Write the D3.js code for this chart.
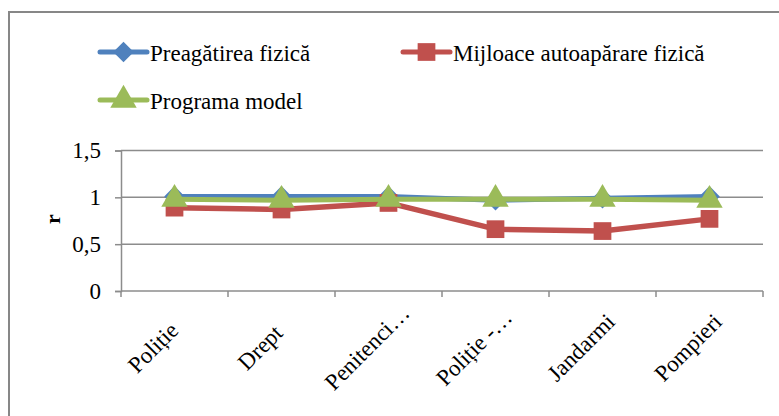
<!DOCTYPE html>
<html>
<head>
<meta charset="utf-8">
<script src="https://cdn.jsdelivr.net/npm/d3@7"></script>
<style>
  body { margin: 0; background: #fff; }
  svg text { font-family: "Liberation Serif", "Times New Roman", "DejaVu Serif", serif; }
</style>
</head>
<body>
<svg id="chart" width="779" height="416"></svg>
<script>
// chart data
const categories = ["Poliție", "Drept", "Penitenci…", "Poliție -…", "Jandarmi", "Pompieri"];
const seriesNames = ["Preagătirea fizică", "Mijloace autoapărare fizică", "Programa model"];
const preagatire = [1.01, 1.01, 1.01, 0.97, 0.99, 1.01];
const mijloace = [0.89, 0.87, 0.94, 0.66, 0.64, 0.77];
const programa = [0.98, 0.97, 0.98, 0.98, 0.98, 0.97];
const yTicks = [0, 0.5, 1, 1.5];
const yTickLabels = ["0", "0,5", "1", "1,5"];

const colors = ["#4F81BD", "#C0504D", "#9BBB59"];
const symbols = [d3.symbolDiamond2, d3.symbolSquare2, d3.symbolTriangle2];
const symbolSizes = [270, 400, 500];
const allSeries = [preagatire, mijloace, programa];
const serif = "'Liberation Serif', 'Times New Roman', 'DejaVu Serif', serif";

const svg = d3.select("#chart");

// outer frame (cropped on right and bottom)
svg.append("rect")
    .attr("x", 9).attr("y", 12)
    .attr("width", 800).attr("height", 450)
    .attr("fill", "none")
    .attr("stroke", "#878787")
    .attr("stroke-width", 2);

const plot = { left: 121, right: 763, top: 150.5, bottom: 291 };

const x = d3.scaleBand()
    .domain(categories)
    .range([plot.left, plot.right]);

const y = d3.scaleLinear()
    .domain([0, 1.5])
    .range([plot.bottom, plot.top]);

// horizontal gridlines
svg.append("g")
    .selectAll("line")
    .data(yTicks.filter(d => d > 0))
    .enter()
    .append("line")
    .attr("x1", plot.left).attr("x2", plot.right)
    .attr("y1", d => y(d)).attr("y2", d => y(d))
    .attr("stroke", "#8c8c8c")
    .attr("stroke-width", 1.5);

// y axis
const yAxis = svg.append("g")
    .attr("transform", `translate(${plot.left},0)`)
    .call(d3.axisLeft(y).tickValues(yTicks).tickSize(6).tickPadding(14)
        .tickFormat((d, i) => yTickLabels[i]));
yAxis.attr("font-family", serif);
yAxis.select(".domain").attr("stroke", "#8c8c8c").attr("stroke-width", 1.5);
yAxis.selectAll(".tick line").attr("stroke", "#8c8c8c").attr("stroke-width", 1.5);
yAxis.selectAll(".tick text")
    .attr("fill", "#000")
    .attr("font-family", serif)
    .style("font-size", "23px");

// x axis: ticks on band boundaries
const xAxis = svg.append("g")
    .attr("transform", `translate(0,${plot.bottom})`);
xAxis.append("line")
    .attr("x1", plot.left).attr("x2", plot.right)
    .attr("stroke", "#8c8c8c").attr("stroke-width", 1.5);
const boundaries = categories.map(c => x(c)).concat([plot.right]);
xAxis.selectAll(".xtick")
    .data(boundaries)
    .enter()
    .append("line")
    .attr("class", "xtick")
    .attr("x1", d => d).attr("x2", d => d)
    .attr("y1", 0).attr("y2", 6)
    .attr("stroke", "#8c8c8c").attr("stroke-width", 1.5);
xAxis.selectAll(".xlabel")
    .data(categories)
    .enter()
    .append("text")
    .attr("class", "xlabel")
    .attr("text-anchor", "middle")
    .attr("transform", d => `translate(${x(d) + x.bandwidth() / 2 - 16},${62}) rotate(-45)`)
    .attr("font-family", serif)
    .style("font-size", "23px")
    .attr("fill", "#000")
    .text(d => d);

// y axis title
svg.append("text")
    .attr("transform", "translate(60,219) rotate(-90)")
    .attr("text-anchor", "middle")
    .attr("font-family", serif)
    .style("font-size", "22px")
    .style("font-weight", "bold")
    .text("r");

// series
const line = d3.line()
    .x((d, i) => x(categories[i]) + x.bandwidth() / 2)
    .y(d => y(d));

allSeries.forEach((vals, s) => {
    const g = svg.append("g");
    g.append("path")
        .datum(vals)
        .attr("d", line)
        .attr("fill", "none")
        .attr("stroke", colors[s])
        .attr("stroke-width", s === 1 ? 5.5 : 5)
        .attr("stroke-linejoin", "round");
    g.selectAll("path.marker")
        .data(vals)
        .enter()
        .append("path")
        .attr("class", "marker")
        .attr("d", d3.symbol().type(symbols[s]).size(symbolSizes[s]))
        .attr("transform", (d, i) => `translate(${x(categories[i]) + x.bandwidth() / 2},${y(d)})`)
        .attr("fill", colors[s]);
});

// legend
const legendPos = [[100, 52], [403, 52], [100, 100]];
seriesNames.forEach((name, s) => {
    const [lx, ly] = legendPos[s];
    const g = svg.append("g").attr("transform", `translate(${lx},${ly})`);
    g.append("line")
        .attr("x1", 0).attr("x2", 47)
        .attr("stroke", colors[s])
        .attr("stroke-width", 5)
        .attr("stroke-linecap", "round");
    g.append("path")
        .attr("d", d3.symbol().type(symbols[s]).size(symbolSizes[s]))
        .attr("transform", "translate(23.5,0)")
        .attr("fill", colors[s]);
    g.append("text")
        .attr("x", 50)
        .attr("y", 9)
        .attr("font-family", serif)
        .style("font-size", "23px")
        .attr("fill", "#000")
        .text(name);
});
</script>
</body>
</html>
